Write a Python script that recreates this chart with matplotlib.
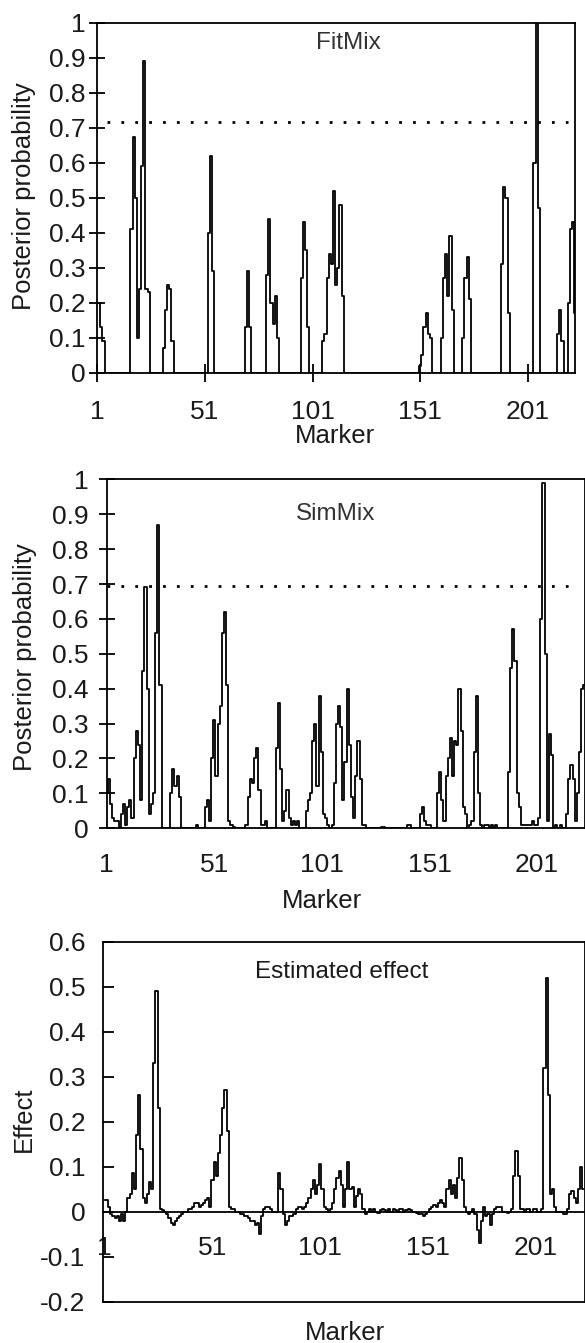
import matplotlib
matplotlib.use("Agg")
import matplotlib.pyplot as plt
import numpy as np

plt.rcParams['font.family'] = ['Liberation Sans', 'DejaVu Sans']
plt.rcParams['axes.unicode_minus'] = False

# ---------------- data ----------------
n_markers = 223
markers = np.arange(1, n_markers + 1)
x_ticks = [1, 51, 101, 151, 201]

# FitMix posterior probability (non-zero markers only)
fitmix_markers = [1, 2, 3, 4,
                  17, 18, 19, 20, 21, 22, 23, 24, 25,
                  32, 33, 34, 35, 36,
                  53, 54, 55,
                  70, 71, 72,
                  80, 81, 82, 83, 84, 85,
                  96, 97, 98, 99,
                  106, 107, 108, 109, 110, 111, 112, 113, 114, 115,
                  151, 152, 153, 154, 155, 156,
                  161, 162, 163, 164, 165, 166,
                  171, 172, 173, 174,
                  189, 190, 191, 192,
                  204, 205, 206,
                  215, 216, 217,
                  220, 221, 222, 223]
fitmix_values = [0.20, 0.20, 0.13, 0.09,
                 0.41, 0.675, 0.50, 0.10, 0.24, 0.59, 0.89, 0.24, 0.23,
                 0.07, 0.18, 0.25, 0.24, 0.09,
                 0.40, 0.62, 0.29,
                 0.13, 0.29, 0.13,
                 0.28, 0.44, 0.20, 0.14, 0.22, 0.10,
                 0.27, 0.43, 0.35, 0.13,
                 0.09, 0.11, 0.27, 0.34, 0.31, 0.52, 0.25, 0.30, 0.48, 0.22,
                 0.02, 0.05, 0.13, 0.17, 0.11, 0.10,
                 0.10, 0.27, 0.34, 0.22, 0.39, 0.18,
                 0.10, 0.27, 0.33, 0.21,
                 0.31, 0.53, 0.50, 0.17,
                 0.60, 1.00, 0.47,
                 0.11, 0.18, 0.09,
                 0.20, 0.41, 0.43, 0.17]
fitmix_threshold = 0.716

# SimMix posterior probability, markers 1..223
simmix = [
    0.10, 0.14, 0.07, 0.03, 0.02, 0.02, 0.00, 0.04, 0.07, 0.01,   # 1-10
    0.06, 0.08, 0.03, 0.20, 0.28, 0.24, 0.08, 0.45, 0.69, 0.40,   # 11-20
    0.04, 0.07, 0.10, 0.56, 0.87, 0.41, 0.00, 0.00, 0.00, 0.00,   # 21-30
    0.10, 0.17, 0.12, 0.15, 0.09, 0.00, 0.00, 0.00, 0.00, 0.00,   # 31-40
    0.00, 0.00, 0.01, 0.00, 0.00, 0.00, 0.06, 0.08, 0.02, 0.20,   # 41-50
    0.31, 0.15, 0.30, 0.35, 0.56, 0.62, 0.41, 0.02, 0.01, 0.005,  # 51-60
    0.00, 0.00, 0.00, 0.00, 0.00, 0.01, 0.09, 0.14, 0.13, 0.20,   # 61-70
    0.23, 0.11, 0.01, 0.01, 0.02, 0.00, 0.00, 0.00, 0.00, 0.23,   # 71-80
    0.36, 0.17, 0.02, 0.05, 0.11, 0.03, 0.01, 0.02, 0.01, 0.02,   # 81-90
    0.00, 0.00, 0.00, 0.05, 0.08, 0.10, 0.25, 0.30, 0.12, 0.38,   # 91-100
    0.22, 0.04, 0.03, 0.01, 0.00, 0.01, 0.13, 0.30, 0.35, 0.29,   # 101-110
    0.08, 0.19, 0.40, 0.24, 0.09, 0.03, 0.15, 0.25, 0.14, 0.01,   # 111-120
    0.01, 0.00, 0.00, 0.00, 0.00, 0.00, 0.00, 0.00, 0.005, 0.005, # 121-130
    0.00, 0.00, 0.00, 0.00, 0.00, 0.00, 0.00, 0.00, 0.00, 0.00,   # 131-140
    0.01, 0.01, 0.00, 0.00, 0.00, 0.00, 0.04, 0.06, 0.02, 0.01,   # 141-150
    0.01, 0.00, 0.00, 0.00, 0.10, 0.16, 0.08, 0.02, 0.15, 0.20,   # 151-160
    0.26, 0.15, 0.25, 0.24, 0.40, 0.28, 0.06, 0.04, 0.00, 0.01,   # 161-170
    0.02, 0.22, 0.38, 0.10, 0.01, 0.00, 0.01, 0.01, 0.00, 0.01,   # 171-180
    0.00, 0.01, 0.00, 0.00, 0.00, 0.00, 0.00, 0.16, 0.46, 0.57,   # 181-190
    0.48, 0.10, 0.06, 0.01, 0.01, 0.01, 0.01, 0.01, 0.02, 0.01,   # 191-200
    0.01, 0.03, 0.60, 0.99, 0.50, 0.02, 0.27, 0.21, 0.00, 0.01,   # 201-210
    0.00, 0.01, 0.00, 0.00, 0.04, 0.14, 0.18, 0.14, 0.02, 0.10,   # 211-220
    0.22, 0.40, 0.41]                                             # 221-223
simmix_threshold = 0.695

# Estimated effect, markers 1..223
effect = [
    0.025, 0.025, 0.01, -0.005, -0.01, -0.015, -0.01, -0.02, -0.005, -0.02,   # 1-10
    0.00, 0.03, 0.04, 0.085, 0.05, 0.17, 0.26, 0.14, 0.03, 0.02,              # 11-20
    0.04, 0.065, 0.05, 0.33, 0.49, 0.23, 0.005, 0.003, 0.00, -0.005,          # 21-30
    -0.015, -0.025, -0.03, -0.02, -0.015, -0.01, -0.005, 0.00, 0.00, 0.005,   # 31-40
    0.005, 0.01, 0.02, 0.02, 0.01, 0.015, 0.02, 0.025, 0.03, 0.01,            # 41-50
    0.07, 0.11, 0.08, 0.13, 0.17, 0.23, 0.27, 0.18, 0.01, 0.005,              # 51-60
    0.005, 0.00, 0.00, -0.005, -0.005, -0.01, -0.01, -0.015, -0.02, -0.02,    # 61-70
    -0.03, -0.025, -0.05, -0.01, 0.005, 0.01, 0.01, 0.005, 0.00, 0.00,        # 71-80
    0.00, 0.085, 0.05, -0.005, -0.03, -0.02, -0.01, -0.01, -0.005, 0.005,     # 81-90
    0.01, 0.01, 0.005, 0.01, 0.02, 0.03, 0.05, 0.07, 0.04, 0.06,              # 91-100
    0.105, 0.05, 0.01, 0.005, 0.00, 0.005, 0.02, 0.05, 0.075, 0.09,           # 101-110
    0.06, 0.01, 0.05, 0.11, 0.05, 0.055, 0.01, 0.035, 0.05, 0.04,             # 111-120
    0.005, -0.005, 0.00, 0.005, 0.00, 0.005, 0.00, -0.003, 0.003, 0.005,      # 121-130
    0.003, 0.00, 0.005, 0.00, 0.005, 0.003, 0.00, 0.005, 0.005, 0.00,         # 131-140
    0.003, 0.005, 0.003, 0.00, 0.00, -0.003, -0.005, -0.005, -0.01, -0.005,   # 141-150
    0.00, 0.005, 0.01, 0.015, 0.01, 0.02, 0.025, 0.02, 0.01, 0.05,            # 151-160
    0.07, 0.04, 0.06, 0.03, 0.075, 0.12, 0.07, 0.01, 0.00, -0.005,            # 161-170
    0.00, 0.005, -0.005, -0.04, -0.07, -0.02, 0.01, -0.01, -0.005, -0.03,     # 171-180
    -0.005, 0.005, 0.01, 0.01, 0.01, 0.00, 0.00, -0.003, 0.00, 0.005,         # 181-190
    0.08, 0.135, 0.08, 0.005, 0.005, 0.00, 0.005, 0.005, 0.00, 0.005,         # 191-200
    0.005, 0.00, 0.00, 0.005, 0.32, 0.52, 0.26, 0.04, 0.05, 0.01,             # 201-210
    0.00, 0.00, 0.00, -0.005, -0.005, 0.005, 0.04, 0.045, 0.03, 0.02,         # 211-220
    0.05, 0.10, 0.05]                                                         # 221-223

fitmix = np.zeros(n_markers)
fitmix[np.array(fitmix_markers) - 1] = fitmix_values

# ---------------- figure ----------------
W, H, DPI = 585, 1343, 100
fig = plt.figure(figsize=(W / DPI, H / DPI), dpi=DPI)
fig.patch.set_facecolor('white')

LW = 1.3
TICK_FS = 19
LABEL_FS = 18.5
TITLE_FS = 17.5
TXT = '#1a1a1a'


def px_axes(left, right, top, bottom):
    return fig.add_axes([left / W, 1 - bottom / H, (right - left) / W, (bottom - top) / H])


def ftext(x, y, s, **kw):
    fig.text(x / W, 1 - y / H, s, **kw)


def style_axes(ax):
    for sp in ax.spines.values():
        sp.set_linewidth(LW)
        sp.set_color('black')
    for lab in ax.get_xticklabels() + ax.get_yticklabels():
        lab.set_color(TXT)


def fmt(v):
    s = f"{v:.1f}"
    if s.endswith(".0"):
        s = s[:-2]
    if s == "-0":
        s = "0"
    return s


# ---- Panel 1: FitMix ----
ax1 = px_axes(97, 575, 22.7, 373)
ax1.plot(markers, fitmix, drawstyle='steps-mid', color='black', lw=LW)
ax1.axhline(fitmix_threshold, xmin=0.02, xmax=0.985, color='black', lw=2.0,
            linestyle=(0, (1, 4)))
ax1.set_xlim(1, 222.8)
ax1.set_ylim(0, 1)
yt = np.round(np.arange(0, 1.01, 0.1), 1)
ax1.set_yticks(yt)
ax1.set_yticklabels([fmt(v) for v in yt])
ax1.set_xticks(x_ticks)
ax1.set_xticklabels([str(v) for v in x_ticks])
ax1.tick_params(axis='y', direction='inout', length=12, width=LW, pad=2.0, labelsize=TICK_FS)
ax1.tick_params(axis='x', direction='inout', length=13, width=LW, pad=13, labelsize=TICK_FS)
style_axes(ax1)

# ---- Panel 2: SimMix ----
ax2 = px_axes(106.7, 585, 479.3, 828.3)
ax2.plot(markers, simmix, drawstyle='steps-mid', color='black', lw=LW)
ax2.axhline(simmix_threshold, xmin=0.0, xmax=0.985, color='black', lw=2.0,
            linestyle=(0, (1, 4)))
ax2.set_xlim(1, 223.3)
ax2.set_ylim(0, 1)
ax2.set_yticks(yt)
ax2.set_yticklabels([fmt(v) for v in yt])
ax2.set_xticks(x_ticks)
ax2.set_xticklabels([str(v) for v in x_ticks])
ax2.tick_params(axis='y', direction='inout', length=12, width=LW, pad=7.0, labelsize=TICK_FS)
ax2.tick_params(axis='x', length=0, pad=18, labelsize=TICK_FS)
style_axes(ax2)

# ---- Panel 3: Estimated effect ----
ax3 = px_axes(103.3, 585, 941.7, 1301.7)
ax3.plot(markers, effect, drawstyle='steps-mid', color='black', lw=LW)
ax3.set_xlim(0.3, 223.8)
ax3.set_ylim(-0.2, 0.6)
yt3 = np.round(np.arange(-0.2, 0.61, 0.1), 1)
ax3.set_yticks(yt3)
ax3.set_yticklabels([fmt(v) for v in yt3])
ax3.set_xticks(x_ticks)
ax3.set_xticklabels([str(v) for v in x_ticks])
ax3.spines['bottom'].set_position(('data', 0))
ax3.axhline(-0.2, color='black', lw=LW, clip_on=False)
ax3.tick_params(axis='y', direction='in', length=8, width=LW, pad=13, labelsize=TICK_FS)
ax3.tick_params(axis='x', length=0, pad=17.5, labelsize=TICK_FS)
style_axes(ax3)

# ---- texts ----
ftext(348, 49.3, "FitMix", ha='center', va='baseline', fontsize=TITLE_FS, color='#333333')
ftext(336, 520, "SimMix", ha='center', va='baseline', fontsize=TITLE_FS, color='#333333')
ftext(341.6, 978.3, "Estimated effect", ha='center', va='baseline', fontsize=TITLE_FS, color=TXT)

ftext(24, 196.5, "Posterior probability", rotation=90, ha='center', va='center',
      fontsize=LABEL_FS, color=TXT)
ftext(25, 657, "Posterior probability", rotation=90, ha='center', va='center',
      fontsize=LABEL_FS, color=TXT)
ftext(23.5, 1119, "Effect", rotation=90, ha='center', va='center', fontsize=LABEL_FS, color=TXT)

ftext(335, 443.3, "Marker", ha='center', va='baseline', fontsize=LABEL_FS, color=TXT)
ftext(322, 908.3, "Marker", ha='center', va='baseline', fontsize=LABEL_FS, color=TXT)
ftext(345, 1340, "Marker", ha='center', va='baseline', fontsize=LABEL_FS, color=TXT)

fig.savefig("out.png", dpi=DPI, facecolor='white')
